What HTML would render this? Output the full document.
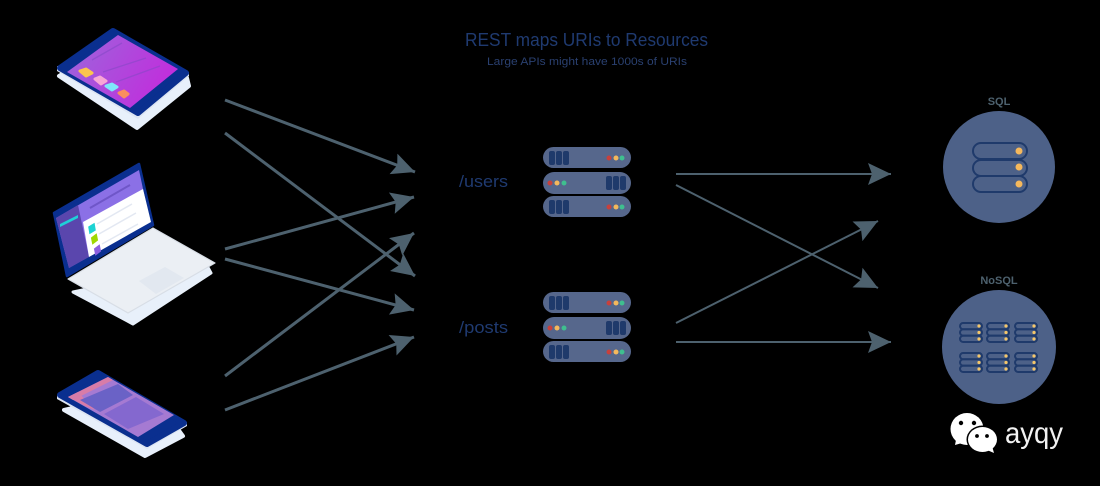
<!DOCTYPE html>
<html>
<head>
<meta charset="utf-8">
<style>
html,body{margin:0;padding:0;background:#000;width:1100px;height:486px;overflow:hidden}
svg{display:block}
text{font-family:"Liberation Sans",sans-serif}
</style>
</head>
<body>
<svg width="1100" height="486" viewBox="0 0 1100 486" xmlns="http://www.w3.org/2000/svg">
<defs>
<marker id="ah" markerUnits="userSpaceOnUse" markerWidth="28" markerHeight="28" refX="23" refY="13" orient="auto">
<path d="M23,13 L0,2 L4,13 L0,24 Z" fill="#4d616e"/>
</marker>
<g id="pillL">
<rect x="543" y="0" width="88" height="21" rx="10.5" fill="#56678c"/>
<rect x="549" y="4" width="6" height="14" rx="2" fill="#1f3a6b"/>
<rect x="556" y="4" width="6" height="14" rx="2" fill="#1f3a6b"/>
<rect x="563" y="4" width="6" height="14" rx="2" fill="#1f3a6b"/>
<circle cx="609" cy="11" r="2.5" fill="#c8403c"/>
<circle cx="616" cy="11" r="2.5" fill="#f5b85c"/>
<circle cx="622" cy="11" r="2.5" fill="#3fbf8f"/>
</g>
<g id="pillR">
<rect x="543" y="0" width="88" height="22" rx="11" fill="#56678c"/>
<rect x="606" y="4" width="6" height="14" rx="2" fill="#1f3a6b"/>
<rect x="613" y="4" width="6" height="14" rx="2" fill="#1f3a6b"/>
<rect x="620" y="4" width="6" height="14" rx="2" fill="#1f3a6b"/>
<circle cx="550" cy="11" r="2.5" fill="#c8403c"/>
<circle cx="557" cy="11" r="2.5" fill="#f5b85c"/>
<circle cx="564" cy="11" r="2.5" fill="#3fbf8f"/>
</g>
<g id="server">
<use href="#pillL" y="147"/>
<use href="#pillR" y="172"/>
<use href="#pillL" y="196"/>
</g>
<g id="mini">
<rect x="1" y="1" width="22" height="6.2" rx="3.1" fill="#4d6188" stroke="#1f3a6b" stroke-width="2"/>
<rect x="1" y="7.4" width="22" height="6.2" rx="3.1" fill="#4d6188" stroke="#1f3a6b" stroke-width="2"/>
<rect x="1" y="13.8" width="22" height="6.2" rx="3.1" fill="#4d6188" stroke="#1f3a6b" stroke-width="2"/>
<circle cx="20" cy="4" r="1.6" fill="#f5c76a"/>
<circle cx="20" cy="10.5" r="1.6" fill="#f5c76a"/>
<circle cx="20" cy="17" r="1.6" fill="#f5c76a"/>
</g>
<linearGradient id="tabg" x1="0" y1="0" x2="1" y2="0.4">
<stop offset="0" stop-color="#9a68dc"/><stop offset="1" stop-color="#c02fdc"/>
</linearGradient>
</defs>

<rect width="1100" height="486" fill="#000"/>

<!-- Tablet -->
<path d="M59,76 L137,128 L189,86 L187,78 L110,45 Z" fill="#e8f0fb" stroke="#e8f0fb" stroke-width="4" stroke-linejoin="round"/>
<path d="M57,71 L138,119 L189,76 L189,72 L138,114 L57,66 Z" fill="#dde5f3"/>
<path d="M60,68 L113,31 L186,73 L138,113 Z" fill="#0a2f8f" stroke="#0a2f8f" stroke-width="6" stroke-linejoin="round"/>
<path d="M67,72 L118,35 L178,69 L130,108 Z" fill="url(#tabg)"/>
<g stroke="#8048c4" stroke-width="1.3" opacity=".5">
<line x1="92" y1="60" x2="122" y2="43"/><line x1="103" y1="72" x2="146" y2="58"/><line x1="116" y1="82" x2="160" y2="66"/>
</g>
<path d="M80,71 L86,69 L92,73 L86,76 Z" fill="#fbc44e" stroke="#fbc44e" stroke-width="3" stroke-linejoin="round"/>
<path d="M95,79 L100,77 L106,81 L101,84 Z" fill="#f7a6d6" stroke="#f7a6d6" stroke-width="3" stroke-linejoin="round"/>
<path d="M106,86 L112,84 L117,87 L112,90 Z" fill="#7fe6fb" stroke="#7fe6fb" stroke-width="3" stroke-linejoin="round"/>
<path d="M119,93 L124,91 L128,94 L124,97 Z" fill="#fb8f5e" stroke="#fb8f5e" stroke-width="3" stroke-linejoin="round"/>

<!-- Laptop -->
<path d="M73,292 L133,324 L211,273 L205,262 L130,280 Z" fill="#e8f0fa" stroke="#e8f0fa" stroke-width="3" stroke-linejoin="round"/>
<path d="M68,279 L153,228 L215,263 L128,313 Z" fill="#ebeff4" stroke="#d8dee6" stroke-width="1.2" stroke-linejoin="round"/>
<path d="M139,281 L165,267 L184,278 L156,294 Z" fill="#e2e8f0"/>
<path d="M54,213 L139,164 L153,225 L67,276 Z" fill="#0a2f8f" stroke="#0a2f8f" stroke-width="2.5" stroke-linejoin="round"/>
<path d="M56,218 L139,170 L150,222 L69,268 Z" fill="#8b70e6"/>
<path d="M56,218 L78,205 L89,257 L69,268 Z" fill="#5a46ad"/>
<path d="M83,222 L143,189 L151,222 L89,257 Z" fill="#fff"/>
<path d="M60,224 L78,215 L78,218 L60,227 Z" fill="#1fd0d8"/>
<line x1="90" y1="208" x2="130" y2="185" stroke="#6f56c8" stroke-width="2"/>
<path d="M89,227 L94,224 L95,230 L90,233 Z" fill="#1dd3d3" stroke="#1dd3d3" stroke-width="1.5"/>
<path d="M92,238 L96,235 L97,240 L93,243 Z" fill="#9fd800" stroke="#9fd800" stroke-width="2"/>
<path d="M95,249 L99,246 L100,251 L96,254 Z" fill="#8b5fe0" stroke="#8b5fe0" stroke-width="2"/>
<g stroke="#e3e8f2" stroke-width="1.5">
<line x1="97" y1="224" x2="132" y2="204"/><line x1="99" y1="234" x2="136" y2="213"/><line x1="102" y1="244" x2="138" y2="224"/>
</g>

<!-- Phone -->
<path d="M64,410 L145,456 L183,436 L175,425 L95,403 Z" fill="#e8f0fb" stroke="#e8f0fb" stroke-width="4" stroke-linejoin="round"/>
<path d="M57,399 L147,449 L187,426 L187,422 L147,445 L57,395 Z" fill="#dde5f3"/>
<path d="M60,395 L98,373 L184,423 L147,444 Z" fill="#0a2f8f" stroke="#0a2f8f" stroke-width="6" stroke-linejoin="round"/>
<path d="M68,397 L108,377 L174,415 L138,437 Z" fill="#a57ad2"/>
<path d="M68,397 L108,377 L113,380 L73,400 Z" fill="#d87ca8"/>
<path d="M68,397 L78,392 L95,410 L85,406 Z" fill="#d87ca8"/>
<path d="M80,400 L118,384 L133,395 L100,412 Z" fill="#6a62c6"/>
<path d="M104,414 L136,397 L164,414 L128,429 Z" fill="#8468cf"/>

<!-- Arrows -->
<g stroke="#4d616e" stroke-width="3" fill="none" marker-end="url(#ah)">
<line x1="225" y1="100" x2="415" y2="172"/>
<line x1="225" y1="133" x2="415" y2="276"/>
<line x1="225" y1="249" x2="414" y2="197"/>
<line x1="225" y1="259" x2="414" y2="310"/>
<line x1="225" y1="376" x2="414" y2="233"/>
<line x1="225" y1="410" x2="414" y2="337"/>
</g>
<g stroke="#4d616e" stroke-width="2" fill="none" marker-end="url(#ah)">
<line x1="676" y1="174" x2="891" y2="174"/>
<line x1="676" y1="185" x2="878" y2="288"/>
<line x1="676" y1="323" x2="878" y2="221"/>
<line x1="676" y1="342" x2="891" y2="342"/>
</g>

<!-- Titles -->
<text x="465" y="46" font-size="18" fill="#1f3a70" textLength="243" lengthAdjust="spacingAndGlyphs">REST maps URIs to Resources</text>
<text x="487" y="65" font-size="11" fill="#2a4070" textLength="200" lengthAdjust="spacingAndGlyphs">Large APIs might have 1000s of URIs</text>
<text x="459" y="187" font-size="17" fill="#1f3a70" textLength="49" lengthAdjust="spacingAndGlyphs">/users</text>
<text x="459" y="333" font-size="17" fill="#1f3a70" textLength="49" lengthAdjust="spacingAndGlyphs">/posts</text>

<!-- Servers -->
<use href="#server"/>
<use href="#server" y="145"/>

<!-- SQL -->
<text x="999" y="105" font-size="11" font-weight="bold" fill="#4d616e" text-anchor="middle">SQL</text>
<circle cx="999" cy="167" r="56" fill="#4d6188"/>
<g fill="#4d6188" stroke="#1f3a6b" stroke-width="2">
<rect x="973" y="143" width="54" height="16" rx="8"/>
<rect x="973" y="160" width="54" height="16" rx="8"/>
<rect x="973" y="176" width="54" height="16" rx="8"/>
</g>
<g fill="#f5b85c">
<circle cx="1019" cy="151" r="3.5"/><circle cx="1019" cy="167" r="3.5"/><circle cx="1019" cy="184" r="3.5"/>
</g>

<!-- NoSQL -->
<text x="999" y="284" font-size="11" font-weight="bold" fill="#4d616e" text-anchor="middle">NoSQL</text>
<circle cx="999" cy="347" r="57" fill="#4d6188"/>
<use href="#mini" x="959" y="322"/><use href="#mini" x="986" y="322"/><use href="#mini" x="1014" y="322"/>
<use href="#mini" x="959" y="352"/><use href="#mini" x="986" y="352"/><use href="#mini" x="1014" y="352"/>

<!-- WeChat -->
<ellipse cx="967" cy="429" rx="16.5" ry="16" fill="#fff"/>
<path d="M956,440 L955,445 L962,443 Z" fill="#fff"/>
<circle cx="961" cy="423" r="2.2" fill="#000"/><circle cx="974" cy="423" r="2.2" fill="#000"/>
<ellipse cx="982.5" cy="439.5" rx="16" ry="14" fill="#000"/>
<ellipse cx="982.5" cy="439.5" rx="14.5" ry="12.5" fill="#fff"/>
<path d="M987,450 L994,453 L992,446 Z" fill="#fff"/>
<circle cx="977" cy="436" r="1.9" fill="#000"/><circle cx="987" cy="436" r="1.9" fill="#000"/>
<text x="1005" y="443" font-size="30" fill="#f2f2f2" textLength="58" lengthAdjust="spacingAndGlyphs">ayqy</text>
</svg>
</body>
</html>
